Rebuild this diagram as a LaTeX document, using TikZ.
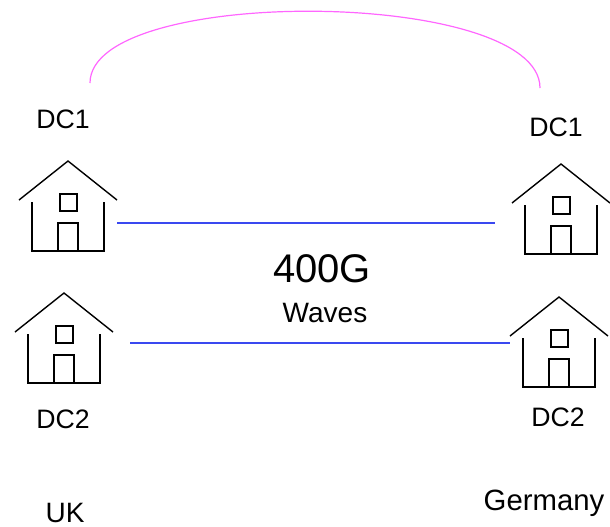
\documentclass[tikz,border=0pt]{standalone}
\usepackage{fontspec}
\setmainfont{Liberation Sans}
\usepackage{tikz}
\usetikzlibrary{calc}
\usetikzlibrary{positioning}

\definecolor{wavecol}{HTML}{3A48F0}
\definecolor{linkcol}{HTML}{FF66FF}

\tikzset{
  pics/house/.style={code={
    \draw (-49,39) -- (0,0) -- (49,39);
    \draw (-36,41) -- (-36,90) -- (36,90) -- (36,41);
    \draw (-8,33) rectangle (9,50);
    \draw (-10,62) rectangle (10,90);
  }},
  label/.style={anchor=base,inner sep=0pt,font=\fontsize{20}{24}\selectfont},
  wave/.style={draw=wavecol,line width=2.1pt},
}

\begin{document}
\begin{tikzpicture}[x=0.75pt,y=-0.75pt,line width=1.05pt]
\useasboundingbox (0,0) rectangle (610,526);

\coordinate (uk1) at (68,161);
\coordinate (de1) at (561,164);
\coordinate (uk2) at (64,293);
\coordinate (de2) at (559,297);

\pic at (uk1) {house};
\pic at (de1) {house};
\pic at (uk2) {house};
\pic at (de2) {house};

% ends of the waves
\coordinate (uk1 e) at ($(uk1)+(49,62)$);
\coordinate (de1 w) at ($(de1)+(-66,59)$);
\coordinate (uk2 e) at ($(uk2)+(66,50)$);
\coordinate (de2 w) at ($(de2)+(-49,46)$);
\draw[wave] (uk1 e) -- (de1 w);
\draw[wave] (uk2 e) -- (de2 w);

\coordinate (a) at (90,83);
\coordinate (b) at (540,88);
\draw[linkcol,line width=0.9pt] (a) .. controls (90,-15) and (540,-12) .. (b);

\node[label] (dc1 uk) at (63,128) {DC1};
\node[label] (dc1 de) at (556,136) {DC1};
\node[label] (dc2 uk) at (63,428) {DC2};
\node[label] (dc2 de) at (558,426) {DC2};

\node[label,font=\fontsize{30}{36}\selectfont] (g400) at (322,282) {400G};
\node[label,font=\fontsize{21}{25}\selectfont] (waves) at (325,322) {Waves};

\node[label,font=\fontsize{21}{25}\selectfont] (uk) at (65,522) {UK};
\node[label,font=\fontsize{22}{26}\selectfont] (de) at (544,510) {Germany};
\end{tikzpicture}
\end{document}
